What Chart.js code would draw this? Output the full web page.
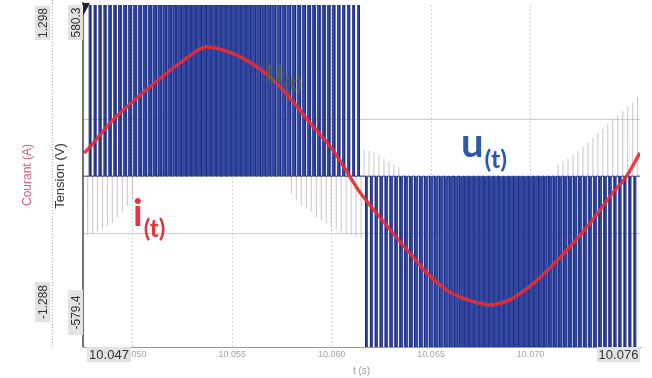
<!DOCTYPE html>
<html>
<head>
<meta charset="utf-8">
<script src="https://cdn.jsdelivr.net/npm/chart.js@4.4.1/dist/chart.umd.min.js"></script>
<style>
  html, body { margin:0; padding:0; background:#fff; }
  #wrap { width:652px; height:378px; }
</style>
</head>
<body>
<div id="wrap"><canvas id="graphe" width="652" height="378"></canvas></div>
<script>
const tMin = 10.0475
const tMax = 10.0755
const ticksT = [10.050, 10.055, 10.060, 10.065, 10.070]
const tensionMax = 580.3
const tensionMin = -579.4
const courantMax = 1.298
const courantMin = -1.288
const grilleV = [-193, 0, 193]

// courant i(t) : temps en ms apres 10 s, valeurs en A
const courantT = [47.55, 47.70, 49.01, 50.72, 52.38, 53.73, 54.89, 56.25, 57.40, 59.06, 60.07, 60.67, 61.43, 62.28, 63.09, 63.94, 64.80, 65.80, 66.81, 67.96, 68.97, 70.12, 71.48, 72.84, 74.15, 74.85, 75.50]
const courantI = [0.18, 0.20, 0.43, 0.66, 0.86, 0.98, 0.94, 0.83, 0.68, 0.38, 0.20, 0.06, -0.12, -0.28, -0.43, -0.58, -0.73, -0.86, -0.93, -0.97, -0.93, -0.81, -0.61, -0.38, -0.12, 0.01, 0.18]

// impulsions MLI alternance positive : centre (ms) et largeur (ms)
const impPosCentre = [47.85, 48.10, 48.35, 48.60, 48.85, 49.10, 49.35, 49.60, 49.85, 50.10, 50.35, 50.60, 50.85, 51.10, 51.35, 51.60, 51.85, 52.10, 52.35, 52.60, 52.85, 53.10, 53.35, 53.60, 53.85, 54.10, 54.35, 54.60, 54.85, 55.10, 55.35, 55.60, 55.85, 56.10, 56.35, 56.60, 56.85, 57.10, 57.35, 57.60, 57.85, 58.10, 58.35, 58.60, 58.85, 59.10, 59.35, 59.60, 59.85, 60.10, 60.35, 60.60, 60.85, 61.10, 61.35]
const impPosLargeur = [0.09, 0.10, 0.11, 0.11, 0.12, 0.12, 0.13, 0.14, 0.14, 0.15, 0.15, 0.16, 0.16, 0.17, 0.17, 0.18, 0.18, 0.18, 0.19, 0.19, 0.19, 0.19, 0.20, 0.20, 0.20, 0.20, 0.20, 0.20, 0.20, 0.20, 0.20, 0.20, 0.20, 0.19, 0.19, 0.19, 0.19, 0.18, 0.18, 0.18, 0.17, 0.17, 0.16, 0.16, 0.15, 0.15, 0.14, 0.14, 0.13, 0.12, 0.12, 0.11, 0.11, 0.10, 0.09]
// impulsions MLI alternance negative
const impNegCentre = [61.75, 62.00, 62.25, 62.50, 62.75, 63.00, 63.25, 63.50, 63.75, 64.00, 64.25, 64.50, 64.75, 65.00, 65.25, 65.50, 65.75, 66.00, 66.25, 66.50, 66.75, 67.00, 67.25, 67.50, 67.75, 68.00, 68.25, 68.50, 68.75, 69.00, 69.25, 69.50, 69.75, 70.00, 70.25, 70.50, 70.75, 71.00, 71.25, 71.50, 71.75, 72.00, 72.25, 72.50, 72.75, 73.00, 73.25, 73.50, 73.75, 74.00, 74.25, 74.50, 74.75, 75.00, 75.25]
const impNegLargeur = [0.09, 0.10, 0.11, 0.12, 0.12, 0.13, 0.13, 0.14, 0.15, 0.15, 0.16, 0.16, 0.17, 0.17, 0.18, 0.18, 0.18, 0.19, 0.19, 0.19, 0.20, 0.20, 0.20, 0.20, 0.20, 0.20, 0.20, 0.20, 0.20, 0.20, 0.20, 0.20, 0.19, 0.19, 0.19, 0.19, 0.18, 0.18, 0.18, 0.17, 0.17, 0.16, 0.16, 0.15, 0.15, 0.14, 0.14, 0.13, 0.13, 0.12, 0.11, 0.11, 0.10, 0.10, 0.09]

// pointes parasites (trace grise) : temps (ms) et amplitude (V)
const pointesT = [47.73, 47.98, 48.23, 48.48, 48.73, 48.98, 49.23, 49.48, 49.73, 49.98,
  57.98, 58.23, 58.48, 58.73, 58.98, 59.23, 59.48, 59.73, 59.98, 60.23, 60.48, 60.73, 60.98, 61.23, 61.48,
  61.63, 61.88, 62.13, 62.38, 62.63, 62.88, 63.13, 63.38,
  71.38, 71.63, 71.88, 72.13, 72.38, 72.63, 72.88, 73.13, 73.38, 73.63, 73.88, 74.13, 74.38, 74.63, 74.88, 75.13, 75.38]
const pointesV = [-200, -195, -190, -180, -170, -160, -140, -120, -100, -80,
  -60, -80, -100, -110, -120, -140, -150, -160, -170, -180, -190, -195, -200, -205, -210,
  90, 85, 80, 70, 60, 50, 40, 30,
  40, 50, 60, 70, 85, 100, 115, 130, 145, 160, 175, 190, 205, 220, 235, 250, 270]

/* ---- construction des series ---- */
const courbeI = courantT.map((t, i) => ({ x: 10 + t / 1000, y: courantI[i] }))

const courbeV = [{ x: tMin, y: 0 }]
function ajoutImp(centres, largeurs, niveau) {
  centres.forEach((c, i) => {
    const d = 10 + (c - largeurs[i] / 2) / 1000
    const f = 10 + (c + largeurs[i] / 2) / 1000
    courbeV.push({ x: d, y: 0 }, { x: d, y: niveau }, { x: f, y: niveau }, { x: f, y: 0 })
  })
}
ajoutImp(impPosCentre, impPosLargeur, tensionMax)
ajoutImp(impNegCentre, impNegLargeur, tensionMin)
courbeV.push({ x: tMax, y: 0 })

const courbeP = []
pointesT.forEach((t, i) => {
  const x = 10 + t / 1000
  courbeP.push({ x: x, y: 0 }, { x: x, y: pointesV[i] }, { x: x, y: 0 })
})

/* ---- habillage (etiquettes, cadres) ---- */
function boiteVert(c, txt, x0, y0, w, h) {
  c.fillStyle = '#e3e3e3'
  c.fillRect(x0, y0, w, h)
  c.save()
  c.translate(x0 + w / 2, y0 + h / 2)
  c.rotate(-Math.PI / 2)
  c.fillStyle = '#333'
  c.font = '12px "Liberation Sans", Arial'
  c.textAlign = 'center'
  c.textBaseline = 'middle'
  c.fillText(txt, 0, 1)
  c.restore()
}
function boiteHoriz(c, txt, x0, y0, w, h) {
  c.fillStyle = '#e3e3e3'
  c.fillRect(x0, y0, w, h)
  c.fillStyle = '#333'
  c.font = '13px "Liberation Sans", Arial'
  c.textAlign = 'center'
  c.textBaseline = 'middle'
  c.fillText(txt, x0 + w / 2, y0 + h / 2 + 1)
}
function texteVert(c, txt, x, y, coul, taille) {
  c.save()
  c.translate(x, y)
  c.rotate(-Math.PI / 2)
  c.fillStyle = coul
  c.font = taille + 'px "Liberation Sans", Arial'
  c.textAlign = 'center'
  c.textBaseline = 'middle'
  c.fillText(txt, 0, 0)
  c.restore()
}
function indice(c, base, ind, x, y, coul, t1, t2) {
  c.fillStyle = coul
  c.textAlign = 'left'
  c.textBaseline = 'alphabetic'
  c.font = 'bold ' + t1 + 'px Lato, "Open Sans", sans-serif'
  c.fillText(base, x, y)
  const w = c.measureText(base).width
  c.font = 'bold ' + t2 + 'px Lato, "Open Sans", sans-serif'
  c.fillText(ind, x + w + 1, y + t2 * 0.45)
}

const decor = {
  id: 'decor',
  afterDraw(chart) {
    const c = chart.ctx
    const a = chart.chartArea
    c.save()
    // axe du courant en pointille
    c.strokeStyle = '#aaaaaa'
    c.lineWidth = 1
    c.setLineDash([1, 2])
    c.beginPath(); c.moveTo(52.5, 0); c.lineTo(52.5, a.bottom); c.stroke()
    c.setLineDash([])
    // axe de la tension
    c.strokeStyle = '#444'
    c.lineWidth = 1.5
    c.beginPath(); c.moveTo(a.left, 2); c.lineTo(a.left, a.bottom); c.stroke()
    c.fillStyle = '#222'
    c.beginPath(); c.moveTo(a.left, 3); c.lineTo(a.left + 7, 3); c.lineTo(a.left, 16); c.closePath(); c.fill()

    boiteVert(c, '1.298', 35, 6, 15, 34)
    boiteVert(c, '-1.288', 35, 282, 15, 40)
    boiteVert(c, '580.3', 68, 5, 15, 35)
    boiteVert(c, '-579.4', 68, 290, 15, 45)
    texteVert(c, 'Courant (A)', 28, 175, '#d0607a', 12)
    texteVert(c, 'Tension (V)', 60, 176, '#333', 13)

    boiteHoriz(c, '10.047', 87, 347, 44, 15)
    boiteHoriz(c, '10.076', 597, 347, 43, 15)

    // reperes des courbes
    indice(c, 'u', '(t)', 461, 157, '#2c5aa8', 40, 25)
    indice(c, 'i', '(t)', 133, 226, '#e8323c', 38, 24)
    c.globalAlpha = 0.75
    indice(c, 'u', '(t)', 265, 82, '#55604a', 32, 20)
    c.restore()
  }
}

/* ---- graphique ---- */
const ctx = document.getElementById('graphe')
new Chart(ctx, {
  type: 'line',
  data: {
    datasets: [{
      label: 'i(t)',
      data: courbeI,
      yAxisID: 'yI',
      borderColor: 'rgba(232,45,55,0.92)',
      borderWidth: 3.4,
      pointRadius: 0,
      cubicInterpolationMode: 'monotone',
      fill: false,
      order: 0
    }, {
      label: 'u(t)',
      data: courbeV,
      yAxisID: 'y',
      borderColor: '#1f2d80',
      borderWidth: 0.8,
      backgroundColor: '#3149a8',
      fill: 'origin',
      pointRadius: 0,
      tension: 0,
      order: 1
    }, {
      label: 'pointes',
      data: courbeP,
      yAxisID: 'y',
      borderColor: 'rgba(160,145,160,0.45)',
      borderWidth: 1.2,
      pointRadius: 0,
      tension: 0,
      fill: false,
      order: 2
    }]
  },
  options: {
    responsive: false,
    animation: false,
    devicePixelRatio: 1,
    layout: { padding: { left: 83, right: 12, top: 5, bottom: 0 } },
    plugins: { legend: { display: false }, tooltip: { enabled: false } },
    scales: {
      x: {
        type: 'linear',
        min: tMin,
        max: tMax,
        afterBuildTicks: s => { s.ticks = ticksT.map(v => ({ value: v })) },
        afterFit: s => { s.height = 31 },
        ticks: { color: '#a5a5a5', font: { size: 9 }, padding: 2, maxRotation: 0, autoSkip: false, callback: v => v.toFixed(3) },
        grid: { color: '#d6d6d6', drawTicks: false },
        border: { display: true, color: '#9a9a9a', dash: [2, 2] },
        title: { display: true, text: 't (s)', color: '#9a9a9a', font: { size: 10 }, padding: { top: 0, bottom: 1 } }
      },
      y: {
        min: tensionMin,
        max: tensionMax,
        afterBuildTicks: s => { s.ticks = grilleV.map(v => ({ value: v })) },
        afterFit: s => { s.width = 0 },
        ticks: { display: false },
        grid: { color: '#cccccc', drawTicks: false },
        border: { display: false }
      },
      yI: { min: courantMin, max: courantMax, display: false }
    }
  },
  plugins: [decor]
})
</script>
</body>
</html>
